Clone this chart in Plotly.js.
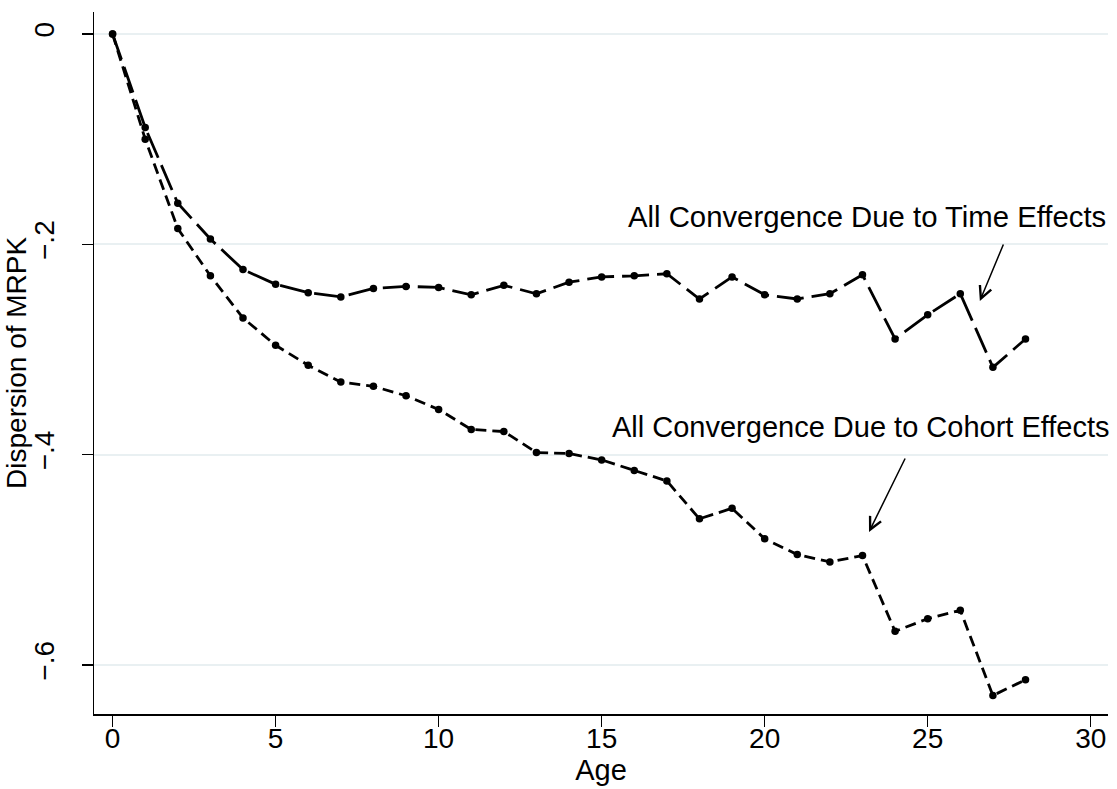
<!DOCTYPE html>
<html>
<head>
<meta charset="utf-8">
<script src="https://cdn.plot.ly/plotly-3.0.1.min.js"></script>
<style>
  html, body { margin: 0; padding: 0; background: #fff; }
  #chart { width: 1117px; height: 789px; }
</style>
</head>
<body>
<div id="chart"></div>
<script>
// ---- Data ----
const ages = [0, 1, 2, 3, 4, 5, 6, 7, 8, 9, 10, 11, 12, 13, 14, 15, 16, 17, 18, 19, 20, 21, 22, 23, 24, 25, 26, 27, 28];
const timeEffects = [0, -0.089, -0.161, -0.195, -0.224, -0.238, -0.246, -0.250, -0.242, -0.240, -0.241, -0.248, -0.239, -0.247, -0.236, -0.231, -0.230, -0.228, -0.252, -0.231, -0.248, -0.252, -0.247, -0.229, -0.290, -0.267, -0.247, -0.317, -0.290];
const cohortEffects = [0, -0.100, -0.185, -0.230, -0.270, -0.296, -0.315, -0.331, -0.335, -0.344, -0.357, -0.376, -0.378, -0.398, -0.399, -0.405, -0.415, -0.425, -0.461, -0.451, -0.480, -0.495, -0.502, -0.496, -0.568, -0.556, -0.548, -0.629, -0.614];
const xTickVals = [0, 5, 10, 15, 20, 25, 30];
const xTickText = ["0", "5", "10", "15", "20", "25", "30"];
const yTickVals = [0, -0.2, -0.4, -0.6];
const yTickText = ["0", "\u2212.2", "\u2212.4", "\u2212.6"];
const xTitle = "Age";
const yTitle = "Dispersion of MRPK";
const timeLabel = "All Convergence Due to Time Effects";
const cohortLabel = "All Convergence Due to Cohort Effects";

const FONT = "Liberation Sans, Arial, Helvetica, sans-serif";

const traces = [
  {
    x: ages, y: cohortEffects, type: "scatter", mode: "lines+markers",
    name: "Cohort", showlegend: false,
    line: { color: "#000", width: 2.8, dash: "11px,6px" },
    marker: { color: "#000", size: 7.5 }
  },
  {
    x: ages, y: timeEffects, type: "scatter", mode: "lines+markers",
    name: "Time", showlegend: false,
    line: { color: "#000", width: 2.8, dash: "27px,8px" },
    marker: { color: "#000", size: 7.5 }
  }
];

const layout = {
  width: 1117, height: 789,
  margin: { l: 94, r: 9, t: 12, b: 75, pad: 0 },
  paper_bgcolor: "#fff", plot_bgcolor: "#fff",
  font: { family: FONT, color: "#000", size: 28 },
  showlegend: false,
  xaxis: {
    range: [-0.57, 30.53],
    tickvals: xTickVals, ticktext: xTickText,
    ticks: "outside", ticklen: 11, tickwidth: 1.5, tickcolor: "#000",
    ticklabelstandoff: -12,
    showline: true, linecolor: "#000", linewidth: 1.5,
    showgrid: false, zeroline: false,
    tickfont: { family: FONT, size: 28, color: "#000" },
    title: { text: xTitle, font: { family: FONT, size: 29, color: "#000" }, standoff: 0 }
  },
  yaxis: {
    range: [-0.6466, 0.0209],
    tickvals: yTickVals, ticktext: yTickText,
    ticks: "outside", ticklen: 11, tickwidth: 1.5, tickcolor: "#000",
    tickangle: -90,
    ticklabelstandoff: 16,
    showline: true, linecolor: "#000", linewidth: 1.5,
    showgrid: true, gridcolor: "#e9f0f2", gridwidth: 2,
    zeroline: false,
    tickfont: { family: FONT, size: 28, color: "#000" }
  },
  annotations: [
    {
      x: -0.077, y: 0.5, xref: "paper", yref: "paper",
      text: yTitle, textangle: -90, showarrow: false, xanchor: "center", yanchor: "middle",
      font: { family: FONT, size: 28, color: "#000" }
    },
    {
      x: 1.0, y: 0.7094, xref: "paper", yref: "paper",
      text: timeLabel, showarrow: false, xanchor: "right", yanchor: "middle",
      font: { family: FONT, size: 29.3, color: "#000" }
    },
    {
      x: 1.004, y: 0.4088, xref: "paper", yref: "paper",
      text: cohortLabel, showarrow: false, xanchor: "right", yanchor: "middle",
      font: { family: FONT, size: 29, color: "#000" }
    },
    {
      x: 26.60, y: -0.2539, ax: 27.34, ay: -0.1987,
      xref: "x", yref: "y", axref: "x", ayref: "y",
      text: "", showarrow: true, arrowhead: 5, arrowsize: 1.6, arrowwidth: 1.5, arrowcolor: "#000"
    },
    {
      x: 23.20, y: -0.4735, ax: 24.33, ay: -0.4022,
      xref: "x", yref: "y", axref: "x", ayref: "y",
      text: "", showarrow: true, arrowhead: 5, arrowsize: 1.6, arrowwidth: 1.5, arrowcolor: "#000"
    }
  ]
};

Plotly.newPlot("chart", traces, layout, { displayModeBar: false, staticPlot: true });
</script>
</body>
</html>
